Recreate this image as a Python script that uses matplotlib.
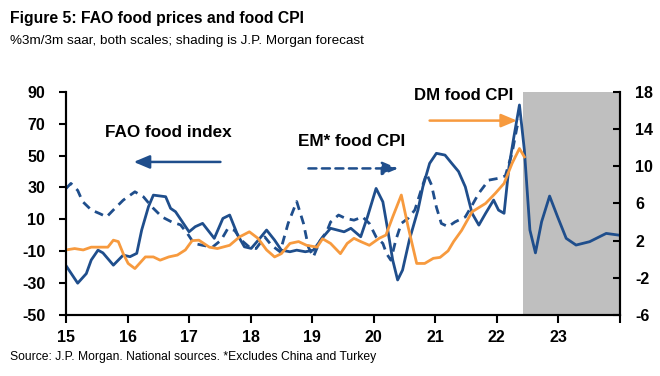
import matplotlib
matplotlib.use("Agg")
import matplotlib.pyplot as plt
from matplotlib import font_manager

# fonts: prefer a narrow Arial-like face if there is one
names = {f.name for f in font_manager.fontManager.ttflist}
FONT = "Liberation Sans Narrow" if "Liberation Sans Narrow" in names else "Liberation Sans"
plt.rcParams["font.family"] = [FONT, "DejaVu Sans"]
plt.rcParams["axes.unicode_minus"] = False

NAVY = "#1F4E8C"
ORANGE = "#F79A3E"
SHADE = "#BFBFBF"

# FAO food index, %3m/3m saar (left axis)
fao_x = [2015.0, 2015.19, 2015.33, 2015.41, 2015.52, 2015.6, 2015.77, 2015.93, 2016.04, 2016.15,
         2016.23, 2016.34, 2016.42, 2016.62, 2016.70, 2016.78, 2016.89, 2017.0, 2017.1, 2017.22,
         2017.41, 2017.55, 2017.66, 2017.79, 2017.90, 2018.01, 2018.15, 2018.26, 2018.39, 2018.50,
         2018.64, 2018.75, 2018.89, 2019.02, 2019.16, 2019.30, 2019.41, 2019.52, 2019.63, 2019.79,
         2019.90, 2020.04, 2020.15, 2020.23, 2020.31, 2020.39, 2020.47, 2020.58, 2020.72, 2020.80,
         2020.91, 2021.02, 2021.16, 2021.27, 2021.38, 2021.49, 2021.60, 2021.71, 2021.82, 2021.95,
         2022.03, 2022.12, 2022.20, 2022.28, 2022.37, 2022.45, 2022.54, 2022.63, 2022.73, 2022.86,
         2022.99, 2023.13, 2023.29, 2023.51, 2023.78, 2023.97]
fao_y = [-19, -30, -24, -15.5, -9.3, -11, -18.7, -12.4, -13.4, -11.3,
         3.3, 17.9, 25.2, 24.2, 16.9, 14.8, 8.5, 2.2, 5.4, 7.5,
         -1.9, 10.6, 12.7, 0.2, -7.2, -8.2, -1.9, 3.3, -3, -9.3,
         -10.3, -9.3, -10.3, -9.3, -1.9, 4.4, 3.3, 2.2, 4.4, -0.9,
         11.6, 29.4, 21.0, 3.3, -15.5, -28, -21.8, -3, 15.8, 30.4,
         45.1, 51.4, 50.3, 45.1, 40, 30.4, 13.8, 6.4, 13.8, 22.1,
         15.8, 13.8, 43, 61.8, 81.7, 53.4, 3.3, -11, 8.5, 24.6,
         11.6, -1.9, -6.1, -4, 1.2, 0.2]

# EM* food CPI (right axis)
em_x = [2015.0, 2015.08, 2015.19, 2015.27, 2015.41, 2015.55, 2015.66, 2015.77, 2015.93, 2016.12,
        2016.26, 2016.40, 2016.56, 2016.72, 2016.86, 2016.97, 2017.08, 2017.22, 2017.38, 2017.52,
        2017.63, 2017.74, 2017.85, 2017.98, 2018.09, 2018.23, 2018.34, 2018.48, 2018.61, 2018.75,
        2018.86, 2018.94, 2019.02, 2019.13, 2019.24, 2019.30, 2019.43, 2019.54, 2019.68, 2019.82,
        2019.93, 2020.04, 2020.15, 2020.21, 2020.28, 2020.36, 2020.45, 2020.56, 2020.67, 2020.78,
        2020.86, 2020.94, 2021.02, 2021.10, 2021.21, 2021.32, 2021.49, 2021.60, 2021.71, 2021.87,
        2022.03, 2022.14, 2022.25, 2022.33, 2022.37]
em_y = [7.6, 8.15, 7.4, 6.2, 5.3, 4.9, 4.55, 5.3, 6.35, 7.25,
        6.7, 5.6, 4.55, 4.0, 3.7, 2.8, 1.7, 1.5, 1.3, 2.05,
        3.3, 3.1, 2.05, 1.3, 1.15, 2.4, 1.5, 0.8, 3.85, 6.2,
        3.85, 1.3, 0.25, 2.0, 3.0, 4.0, 4.75, 4.4, 4.2, 4.55,
        3.85, 2.4, 1.7, 0.6, -0.1, 2.05, 3.85, 4.4, 5.3, 7.6,
        9.2, 8.0, 5.6, 3.85, 3.5, 4.0, 4.55, 5.8, 7.1, 8.5,
        8.7, 8.95, 11.4, 14.2, 15.0]

# DM food CPI (right axis)
dm_x = [2015.0, 2015.14, 2015.28, 2015.41, 2015.55, 2015.68, 2015.77, 2015.85, 2015.93, 2016.01,
        2016.12, 2016.29, 2016.42, 2016.53, 2016.67, 2016.81, 2016.94, 2017.05, 2017.16, 2017.33,
        2017.46, 2017.66, 2017.82, 2017.98, 2018.12, 2018.26, 2018.39, 2018.50, 2018.64, 2018.78,
        2018.91, 2019.08, 2019.17, 2019.30, 2019.46, 2019.57, 2019.68, 2019.79, 2019.93, 2020.09,
        2020.20, 2020.31, 2020.45, 2020.56, 2020.70, 2020.83, 2020.97, 2021.08, 2021.21, 2021.30,
        2021.43, 2021.60, 2021.82, 2021.98, 2022.12, 2022.25, 2022.37, 2022.45]
dm_y = [1.0, 1.15, 1.0, 1.3, 1.3, 1.3, 2.05, 1.9, 0.6, -0.45,
        -1.0, 0.25, 0.25, -0.1, 0.25, 0.45, 1.0, 2.0, 2.05, 1.3,
        1.15, 1.5, 2.4, 2.95, 2.25, 1.0, 0.25, 0.6, 1.7, 1.9,
        1.5, 1.3, 2.2, 1.7, 0.6, 1.7, 2.25, 1.9, 1.5, 2.25,
        2.6, 4.55, 6.9, 3.5, -0.45, -0.45, 0.1, 0.2, 0.9, 1.9,
        3.1, 5.1, 6.0, 7.1, 8.15, 10.3, 11.9, 11.0]

forecast_start = 2022.42
year_ticks = list(range(2015, 2025))
year_labels = ["15", "16", "17", "18", "19", "20", "21", "22", "23", ""]
left_ticks = list(range(-50, 91, 20))
right_ticks = list(range(-6, 19, 4))

fig = plt.figure(figsize=(6.6, 3.76), dpi=100)
ax = fig.add_axes([0.1, 0.162, 0.839, 0.594])
ax2 = ax.twinx()

ax.axvspan(forecast_start, 2024, color=SHADE, lw=0, zorder=0)
ax.plot(fao_x, fao_y, color=NAVY, lw=2.0, zorder=3)
ax2.plot(em_x, em_y, color=NAVY, lw=2.0, ls=(0, (3.2, 2.2)))
ax2.plot(dm_x, dm_y, color=ORANGE, lw=2.0)

ax.set_xlim(2015, 2024)
ax.set_ylim(-50, 90)
ax2.set_ylim(-6, 18)
ax.set_xticks(year_ticks)
ax.set_xticklabels(year_labels)
ax.set_yticks(left_ticks)
ax2.set_yticks(right_ticks)

for a in (ax, ax2):
    a.spines["top"].set_visible(False)
    for s in ("left", "right", "bottom"):
        a.spines[s].set_linewidth(1.5)
ax.tick_params(axis="y", direction="out", length=5, width=1.5, labelsize=11.5, pad=10)
ax2.tick_params(axis="y", direction="in", length=5, width=1.5, labelsize=11.5, pad=11)
ax.tick_params(axis="x", direction="out", length=6, width=1.5, labelsize=11.5, pad=5)
for lab in ax.get_yticklabels() + ax2.get_yticklabels() + ax.get_xticklabels():
    lab.set_fontweight("bold")

# labels with arrows
arrow_kw = dict(arrowstyle="-|>,head_length=0.95,head_width=0.4", lw=1.8, shrinkA=0, shrinkB=0)
ax.annotate("", xy=(2016.10, 46), xytext=(2017.51, 46),
            arrowprops=dict(color=NAVY, **arrow_kw))
ax.text(2016.67, 64.3, "FAO food index", ha="center", va="center",
        fontsize=12.3, fontweight="bold")
ax2.annotate("", xy=(2020.40, 9.76), xytext=(2018.94, 9.76),
             arrowprops=dict(color=NAVY, linestyle=(0, (3.2, 2.2)), **arrow_kw))
ax2.text(2019.64, 12.6, "EM* food CPI", ha="center", va="center",
         fontsize=12.3, fontweight="bold")
ax2.annotate("", xy=(2022.33, 14.9), xytext=(2020.91, 14.9),
             arrowprops=dict(color=ORANGE, **arrow_kw))
ax2.text(2021.46, 17.65, "DM food CPI", ha="center", va="center",
         fontsize=12.1, fontweight="bold")

fig.text(0.015, 0.952, "Figure 5: FAO food prices and food CPI", fontsize=11.3,
         fontweight="bold", va="center", ha="left")
fig.text(0.015, 0.89, "%3m/3m saar, both scales; shading is J.P. Morgan forecast",
         fontsize=9.7, va="center", ha="left")
fig.text(0.015, 0.05, "Source: J.P. Morgan. National sources. *Excludes China and Turkey",
         fontsize=8.7, va="center", ha="left")

fig.savefig("out.png", dpi=100)
